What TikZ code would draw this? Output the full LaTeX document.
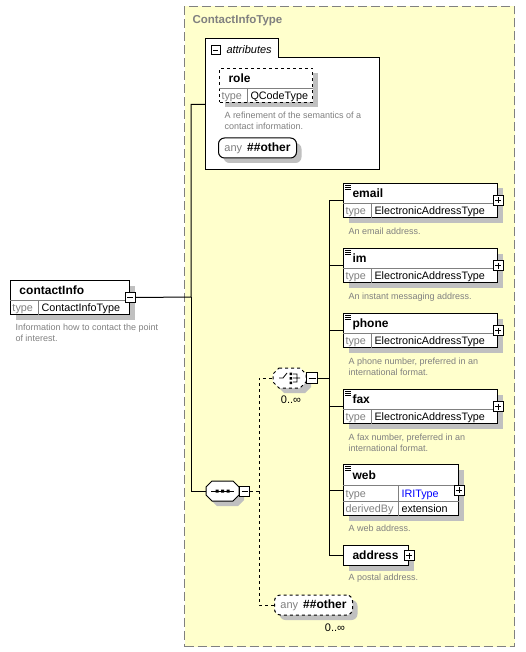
\documentclass[tikz,border=0pt]{standalone}
\usepackage{fontspec}
\setmainfont{Liberation Sans}
\usepackage{tikz}
\usetikzlibrary{positioning, shadows}

\definecolor{cttype}{RGB}{255,255,204}
\definecolor{ctshade}{RGB}{192,192,192}
\definecolor{ctnote}{RGB}{128,128,128}
\definecolor{ctlink}{RGB}{0,0,255}

\newcommand{\anylabel}{{\color{ctnote}\fontsize{11}{13}\selectfont any}\hspace{5pt}{\bfseries\#\#other}}
\newcommand{\elbox}[7][]{%
	\node[element, #1, minimum width=#5] (#2) at (#3,#4) {};
	\draw[celline] ([yshift=-20pt]#2.north west) -- ([yshift=-20pt]#2.north east);
	\draw[celline] ([xshift=28pt,yshift=-20pt]#2.north west) -- ([xshift=28pt]#2.south west);
	\node[elname] (#2-name) at ([xshift=9pt,yshift=-14.5pt]#2.north west) {#6};
	\node[keytext] (#2-key) at ([xshift=2pt,yshift=3.5pt]#2.south west) {type};
	\node[valtext] (#2-val) at ([xshift=31pt,yshift=3.5pt]#2.south west) {#7};
}
\newcommand{\listicon}[1]{%
	\draw[line width=0.8pt] ([xshift=2pt,yshift=-2pt]#1.north west) -- ++(6pt,0pt) ++(-6pt,-2pt) -- ++(6pt,0pt) ++(-6pt,-2pt) -- ++(6pt,0pt);
}

\begin{document}
\begin{tikzpicture}[x=1pt, y=-1pt, line width=1pt,
		shade/.style={drop shadow={shadow xshift=5pt, shadow yshift=-5pt, fill=ctshade, opacity=1}},
		typebox/.style={draw=ctnote, fill=cttype, dash pattern=on 9pt off 4pt, anchor=north west, inner sep=0pt},
		element/.style={draw, fill=white, anchor=north west, inner sep=0pt, minimum height=34pt, shade},
		celline/.style={draw=ctnote, line width=0.8pt},
		elname/.style={anchor=base west, inner sep=0pt, font=\fontsize{12}{14}\selectfont\bfseries},
		keytext/.style={anchor=base west, inner sep=0pt, text=ctnote, font=\fontsize{10.8}{13}\selectfont},
		valtext/.style={anchor=base west, inner sep=0pt, font=\fontsize{10.8}{13}\selectfont},
		notetext/.style={anchor=north west, inner sep=0pt, align=left, text=ctnote, font=\fontsize{9}{11}\selectfont},
		occurs/.style={inner sep=0pt, font=\fontsize{11}{13}\selectfont},
		pmbox/.style={draw, fill=white, line width=0.8pt, inner sep=0pt, minimum size=10pt},
		pmminus/.style={pmbox, path picture={\draw[line width=0.8pt] ([xshift=2pt]path picture bounding box.west) -- ([xshift=-2pt]path picture bounding box.east);}},
		pmplus/.style={pmbox, path picture={\draw[line width=0.8pt] ([xshift=2pt]path picture bounding box.west) -- ([xshift=-2pt]path picture bounding box.east) ([yshift=-2pt]path picture bounding box.north) -- ([yshift=2pt]path picture bounding box.south);}},
		slot/.style={draw=none, fill=none, minimum width=33pt, minimum height=20pt, inner sep=0pt},
		compositor/.pic={
			\fill[ctshade] (-5.5,-5) -- (15.5,-5) -- (21.5,1) -- (21.5,9) -- (15.5,15) -- (-5.5,15) -- (-11.5,9) -- (-11.5,1) -- cycle;
			\draw[fill=white, pic actions] (-10.5,-10) -- (10.5,-10) -- (16.5,-4) -- (16.5,4) -- (10.5,10) -- (-10.5,10) -- (-16.5,4) -- (-16.5,-4) -- cycle;
		},
		anynode/.style={draw, fill=white, rounded corners=6pt, minimum width=78pt, minimum height=20pt, inner sep=0pt, font=\fontsize{12}{14}\selectfont, shade}]
	\useasboundingbox (0,0) rectangle (525,652);

	\node[typebox, minimum width=330pt, minimum height=640pt] (cit) at (184,6) {};
	\node[anchor=base west, inner sep=0pt, text=ctnote, font=\fontsize{11.5}{14}\selectfont\bfseries] (cit-t) at (192,24) {ContactInfoType};

	\node[draw=none, fill=none, minimum width=173pt, minimum height=130pt, anchor=north west, inner sep=0pt] (attrs) at (205,39) {};
	\draw[fill=white] (attrs.north west) -- ++(73pt,0pt) -- ++(0pt,-19pt) -| (attrs.south east) -- (attrs.south west) -- cycle;
	\node[pmminus, minimum size=9pt] (attrs-m) at (215.5,50) {};
	\node[anchor=base west, inner sep=0pt, font=\fontsize{11}{13}\selectfont\itshape] (attrs-t) at (226,53.5) {attributes};
	\elbox[dashed]{role}{219}{68}{93pt}{role}{QCodeType}
	\node[notetext] (role-d) at (224,111) {A refinement of the semantics of a\\contact information.};
	\node[anynode] (any1) at (257.5,148) {\anylabel};

	\elbox{ci}{10}{280}{119pt}{contactInfo}{ContactInfoType}
	\node[pmminus] (ci-m) at (ci.east) {};
	\node[notetext] (ci-d) at (15,323) {Information how to contact the point\\of interest.};

	\pic at (222.5,491) {compositor};
	\node[slot] (seq) at (222.5,491) {};
	\node[pmminus] (seq-m) at ([xshift=5pt]seq.east) {};
	\draw (211,491) -- (234,491);
	\fill (215.5,489.5) rectangle (218.5,492.5) (221,489.5) rectangle (224,492.5) (226.5,489.5) rectangle (229.5,492.5);

	\pic[dashed] at (289.5,378) {compositor};
	\node[slot] (choice) at (289.5,378) {};
	\node[pmminus, minimum size=11pt] (choice-m) at ([xshift=5.5pt]choice.east) {};
	\draw[line width=0.8pt] (279,378) -- (283,378) -- (287,373) (293,374) -- (297,374) -- (297,382) -- (293,382) (293,378) -- (300,378);
	\fill (289.5,372.5) rectangle (292,375) (289.5,377) rectangle (292,379.5) (289.5,381.5) rectangle (292,384);
	\node[occurs] (choice-o) at (291,400) {0..∞};

	\elbox{email}{343}{183}{154pt}{email}{ElectronicAddressType}
	\listicon{email}
	\node[pmplus] (email-x) at (email.east) {};
	\node[notetext] (email-d) at ([xshift=5pt,yshift=-9pt]email.south west) {An email address.};

	\elbox{im}{343}{248}{154pt}{im}{ElectronicAddressType}
	\listicon{im}
	\node[pmplus] (im-x) at (im.east) {};
	\node[notetext] (im-d) at ([xshift=5pt,yshift=-9pt]im.south west) {An instant messaging address.};

	\elbox{phone}{343}{313}{154pt}{phone}{ElectronicAddressType}
	\listicon{phone}
	\node[pmplus] (phone-x) at (phone.east) {};
	\node[notetext] (phone-d) at ([xshift=5pt,yshift=-9pt]phone.south west) {A phone number, preferred in an\\international format.};

	\elbox{fax}{343}{389}{154pt}{fax}{ElectronicAddressType}
	\listicon{fax}
	\node[pmplus] (fax-x) at (fax.east) {};
	\node[notetext] (fax-d) at ([xshift=5pt,yshift=-9pt]fax.south west) {A fax number, preferred in an\\international format.};

	\node[element, minimum width=115pt, minimum height=51pt] (web) at (343,464) {};
	\draw[celline] ([yshift=-21pt]web.north west) -- ([yshift=-21pt]web.north east) ([yshift=15pt]web.south west) -- ([yshift=15pt]web.south east) ([xshift=55pt,yshift=-21pt]web.north west) -- ([xshift=55pt]web.south west);
	\listicon{web}
	\node[elname] (web-name) at ([xshift=9pt,yshift=-15pt]web.north west) {web};
	\node[keytext] (web-key) at ([xshift=2pt,yshift=18.5pt]web.south west) {type};
	\node[valtext, text=ctlink] (web-val) at ([xshift=58pt,yshift=18.5pt]web.south west) {IRIType};
	\node[keytext] (web-key2) at ([xshift=2pt,yshift=3.5pt]web.south west) {derivedBy};
	\node[valtext] (web-val2) at ([xshift=58pt,yshift=3.5pt]web.south west) {extension};
	\node[pmplus] (web-x) at (web.east) {};
	\node[notetext] (web-d) at ([xshift=5pt,yshift=-8pt]web.south west) {A web address.};

	\node[element, minimum width=65pt, minimum height=20pt] (address) at (343,545) {};
	\node[elname] (address-name) at ([xshift=9pt,yshift=-14.5pt]address.north west) {address};
	\node[pmplus] (address-x) at (address.east) {};
	\node[notetext] (address-d) at ([xshift=5pt,yshift=-7pt]address.south west) {A postal address.};

	\node[anynode, dashed] (anyb) at (313.5,605) {\anylabel};
	\node[occurs] (anyb-o) at (335,628) {0..∞};

	\coordinate (trunk) at (191,297);
	\draw (ci-m.east) -- (trunk) |- (attrs.west);
	\draw (trunk) |- (seq.west);
	\coordinate (seqbus) at (259,491);
	\draw[dashed] (seq-m.east) -- (seqbus) |- (choice.west);
	\draw[dashed] (seqbus) |- (anyb.west);
	\coordinate (chbus) at (329,378);
	\draw (choice-m.east) -- (chbus);
	\draw (chbus) |- (email.west);
	\draw (chbus) |- (im.west);
	\draw (chbus) |- (phone.west);
	\draw (chbus) |- (fax.west);
	\draw (chbus) |- (web.west);
	\draw (chbus) |- (address.west);
\end{tikzpicture}
\end{document}
